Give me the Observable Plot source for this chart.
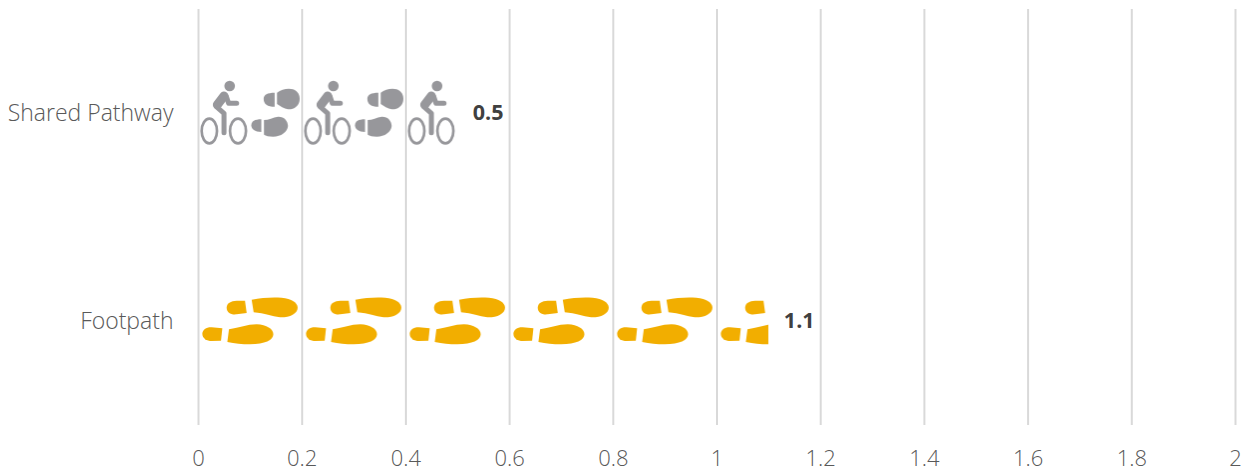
<!DOCTYPE html>
<html>
<head>
<meta charset="utf-8">
<script src="https://cdn.jsdelivr.net/npm/d3@7"></script>
<script src="https://cdn.jsdelivr.net/npm/@observablehq/plot@0.6"></script>
<style>
  html, body { margin: 0; padding: 0; background: #fff; }
  svg { display: block; }
</style>
</head>
<body>
<div id="chart"></div>
<script>
const categories = ["Shared Pathway", "Footpath"];
const distances = [0.5, 1.1];
const patternFills = ["url(#cycle-walk)", "url(#walk)"];
const xTicks = [0, 0.2, 0.4, 0.6, 0.8, 1, 1.2, 1.4, 1.6, 1.8, 2];
const iconSpan = 0.2;

const rows = categories.map((category, i) => ({
  category,
  distance: distances[i],
  pattern: patternFills[i]
}));

const fontFamily = "'Open Sans', sans-serif";

const chart = Plot.plot({
  width: 1249,
  height: 473,
  marginLeft: 198,
  marginRight: 14,
  marginTop: 9,
  marginBottom: 48,
  style: { background: "#fff", fontFamily },
  x: { domain: [0, 2] },
  y: { domain: categories, paddingInner: 0.654, paddingOuter: 0.327, round: false },
  color: { type: "identity" },
  marks: [
    Plot.ruleX(xTicks, { stroke: "#d9d9d9", strokeWidth: 2 }),
    // Each bar is filled with a repeating icon tile, so its length cuts the last icon.
    Plot.barX(rows, { x1: 0, x2: "distance", y: "category", fill: "pattern" }),
    Plot.text(rows, {
      x: "distance", y: "category", text: d => String(d.distance),
      dx: 15, textAnchor: "start", fontSize: 21.5, fontWeight: 700, fill: "#404040"
    }),
    Plot.axisX({
      ticks: xTicks, tickSize: 0, tickPadding: 25, tickFormat: d => String(d),
      fontSize: 22, fontWeight: 300, fill: "#595959", label: null, anchor: "bottom"
    }),
    Plot.axisY({
      tickSize: 0, tickPadding: 25, fontSize: 23, fontWeight: 300, fill: "#595959", label: null, anchor: "left"
    })
  ]
});

// Icon tiles: one repeat spans iconSpan on the x scale, anchored at the zero line.
const x = chart.scale("x");
const y = chart.scale("y");
const tileWidth = x.apply(iconSpan) - x.apply(0);
const tileOrigin = x.apply(0);

// Footprint outlines, drawn at three times their final size.
const footprints = `
  <path d="M110 68C110 54 122 48 140 47L165 47L170 84L140 88C122 90 110 82 110 68Z"/>
  <path d="M185 44C215 38 245 36 275 38C305 42 323 52 323 68C323 86 298 98 270 97C245 95 225 84 191 82Z"/>
  <path d="M37 147C37 134 50 126 65 127L97 130L93 167L65 168C50 168 37 160 37 147Z"/>
  <path d="M117 133C150 128 170 118 200 118C230 119 250 132 250 148C250 165 225 178 180 178C155 178 135 176 112 171Z"/>`;

// Rider and shoe prints, also at three times their final size.
const cycleWalk = `
  <g transform="translate(0 -1) scale(${1 / 3})">
    <g fill="#97979b">
      <circle cx="95" cy="30" r="16"/>
      <path d="M197 68C197 56 208 50 230 50L230 92C208 92 197 84 197 68Z"/>
      <path d="M237 50C250 40 270 36 285 40C300 46 306 58 305 72C303 90 288 101 270 100C258 98 246 90 237 84Z"/>
      <path d="M160 148C160 136 170 130 190 130L190 168C170 168 160 160 160 148Z"/>
      <path d="M198 132C212 132 225 124 240 122C258 121 270 134 270 150C268 168 250 182 225 182C212 182 204 180 198 176Z"/>
    </g>
    <g fill="none" stroke="#97979b" stroke-linecap="round" stroke-linejoin="round">
      <path stroke-width="27" d="M78 60L58 86"/>
      <path stroke-width="15" d="M85 62L92 82L116 82"/>
      <path stroke-width="15" d="M55 92L78 112L78 170"/>
      <g stroke-width="8">
        <ellipse cx="34" cy="165" rx="23" ry="37"/>
        <ellipse cx="120" cy="165" rx="24" ry="37"/>
      </g>
    </g>
  </g>`;

const svgNS = "http://www.w3.org/2000/svg";
const defs = document.createElementNS(svgNS, "defs");
const tile = (id, band, content) =>
  `<pattern id="${id}" patternUnits="userSpaceOnUse" x="${tileOrigin}" y="${y.apply(band)}"
     width="${tileWidth}" height="${y.bandwidth}">${content}</pattern>`;
defs.innerHTML =
  tile("cycle-walk", categories[0], cycleWalk) +
  tile("walk", categories[1], `<g fill="#f2ae00" transform="translate(-8 0) scale(${1 / 3})">${footprints}</g>`);
chart.prepend(defs);

document.getElementById("chart").append(chart);
</script>
</body>
</html>
